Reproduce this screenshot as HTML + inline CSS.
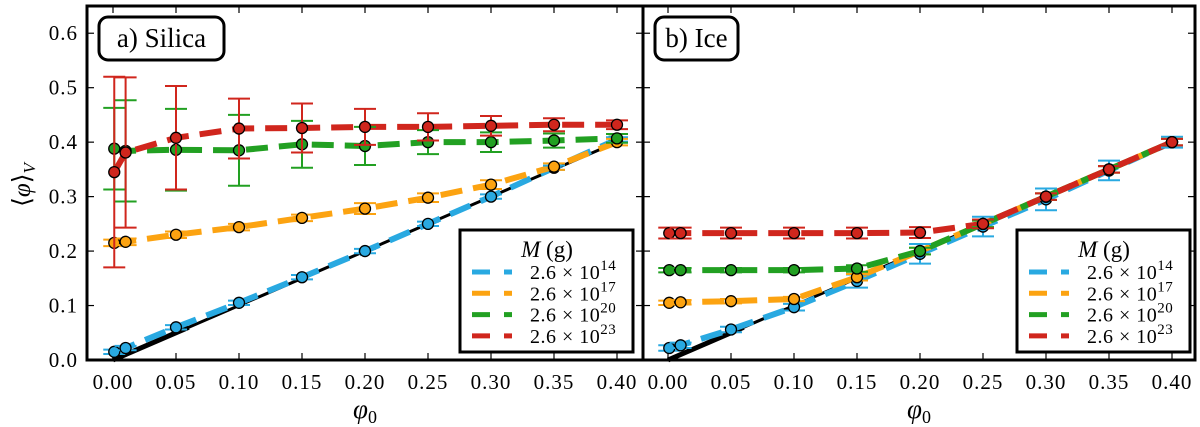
<!DOCTYPE html>
<html><head><meta charset="utf-8">
<style>
html,body{margin:0;padding:0;background:#fff;}
svg{display:block;font-family:"Liberation Serif",serif;}
</style></head>
<body>
<svg id="chart" width="1200" height="427" viewBox="0 0 1200 427" xmlns="http://www.w3.org/2000/svg"></svg>
<script>
const xVals = [0.001, 0.01, 0.05, 0.10, 0.15, 0.20, 0.25, 0.30, 0.35, 0.40];
const xTicks = [0, 0.05, 0.10, 0.15, 0.20, 0.25, 0.30, 0.35, 0.40];
const xTickLabels = ["0.00","0.05","0.10","0.15","0.20","0.25","0.30","0.35","0.40"];
const yTicks = [0, 0.1, 0.2, 0.3, 0.4, 0.5, 0.6];
const yTickLabels = ["0.0","0.1","0.2","0.3","0.4","0.5","0.6"];
const seriesNames = ["2.6e14","2.6e17","2.6e20","2.6e23"];
const seriesColors = ["#29a9e1","#fca311","#22a022","#d0261d"];
const legendExp = ["14","17","20","23"];
// Silica
const silicaBlue = [0.015,0.022,0.060,0.105,0.152,0.200,0.250,0.300,0.353,0.405];
const silicaBlueErr = [0.004,0.004,0.004,0.004,0.004,0.004,0.004,0.004,0.004,0.004];
const silicaOrange = [0.215,0.217,0.230,0.244,0.261,0.278,0.298,0.322,0.355,0.400];
const silicaOrangeErr = [0.006,0.006,0.006,0.006,0.006,0.010,0.008,0.008,0.006,0.006];
const silicaGreen = [0.388,0.384,0.386,0.385,0.396,0.393,0.400,0.400,0.403,0.407];
const silicaGreenErr = [0.075,0.093,0.075,0.065,0.043,0.035,0.022,0.018,0.013,0.008];
const silicaRed = [0.345,0.381,0.408,0.425,0.426,0.428,0.428,0.430,0.432,0.432];
const silicaRedErr = [0.175,0.138,0.095,0.055,0.045,0.033,0.025,0.018,0.012,0.008];
// Ice
const iceBlue = [0.022,0.027,0.056,0.097,0.145,0.195,0.245,0.295,0.348,0.400];
const iceBlueErr = [0.005,0.005,0.005,0.006,0.012,0.018,0.018,0.020,0.018,0.010];
const iceOrange = [0.105,0.106,0.108,0.112,0.152,0.200,0.250,0.300,0.350,0.400];
const iceOrangeErr = [0.004,0.004,0.004,0.004,0.006,0.006,0.006,0.006,0.006,0.006];
const iceGreen = [0.165,0.165,0.165,0.165,0.168,0.200,0.250,0.300,0.350,0.400];
const iceGreenErr = [0.004,0.004,0.004,0.004,0.006,0.006,0.006,0.006,0.006,0.006];
const iceRed = [0.233,0.233,0.233,0.233,0.233,0.234,0.250,0.300,0.350,0.400];
const iceRedErr = [0.010,0.010,0.010,0.010,0.010,0.010,0.008,0.006,0.006,0.006];

const NS="http://www.w3.org/2000/svg";
const svg=document.getElementById('chart');
function mk(tag,attrs,parent){const e=document.createElementNS(NS,tag);for(const k in attrs)e.setAttribute(k,attrs[k]);(parent||svg).appendChild(e);return e;}

const yTop=6,yBot=360;
function yScale(v){return yBot-(v/0.65)*(yBot-yTop);}

const panels=[
 {name:"silica",left:87,right:643,x0:113,label:"a) Silica",boxW:125,
  data:[[silicaBlue,silicaBlueErr],[silicaOrange,silicaOrangeErr],[silicaGreen,silicaGreenErr],[silicaRed,silicaRedErr]],legX:460},
 {name:"ice",left:643,right:1195,x0:668,label:"b) Ice",boxW:83,
  data:[[iceBlue,iceBlueErr],[iceOrange,iceOrangeErr],[iceGreen,iceGreenErr],[iceRed,iceRedErr]],legX:1017}
];

panels.forEach((p,pi)=>{
  const xScale=v=>p.x0+v/0.05*63.0;
  const g=mk('g',{});
  
  
  xTicks.forEach((t,i)=>{
    const x=xScale(t);
    const tk=mk('line',{x1:x,x2:x,y1:yBot,y2:yBot-7,stroke:'#000','stroke-width':1.2},g);
    
    
    mk('line',{x1:x,x2:x,y1:yTop,y2:yTop+7,stroke:'#000','stroke-width':1.2},g);
    const tl=mk('text',{x:x,y:389,'text-anchor':'middle','font-size':21,'letter-spacing':1},g);
    tl.textContent=xTickLabels[i];
    
    
  });
  yTicks.forEach((t,i)=>{
    const y=yScale(t);
    mk('line',{x1:p.left,x2:p.left+7,y1:y,y2:y,stroke:'#000','stroke-width':1.2},g);
    mk('line',{x1:p.right,x2:p.right-7,y1:y,y2:y,stroke:'#000','stroke-width':1.2},g);
    if(pi===0){
      const tl=mk('text',{x:78,y:y+7,'text-anchor':'end','font-size':21,'letter-spacing':1},g);
      tl.textContent=yTickLabels[i];
      
      
    }
  });
  const ref=mk('line',{x1:xScale(0),y1:yScale(0),x2:xScale(0.4),y2:yScale(0.4),stroke:'#000','stroke-width':3},g);
  
  
  mk('line',{x1:xScale(0),y1:yScale(0),x2:xScale(0.06),y2:yScale(0.06),stroke:'#000','stroke-width':5},g);
  p.data.forEach((d,si)=>{
    const [vals,errs]=d;const c=seriesColors[si];
    const pts=vals.map((v,i)=>xScale(xVals[i])+','+yScale(v)).join(' ');
    const ln=mk('polyline',{points:pts,fill:'none',stroke:c,'stroke-width':6,'stroke-dasharray':'22 11'},g);
    
    
  });
  p.data.forEach((d,si)=>{
    const [vals,errs]=d;const c=seriesColors[si];
    vals.forEach((v,i)=>{
      const x=xScale(xVals[i]);
      const y1=yScale(v+errs[i]),y2=yScale(v-errs[i]);
      const eb=mk('g',{},g);
      
      
      mk('line',{x1:x,x2:x,y1:y1,y2:y2,stroke:c,'stroke-width':2},eb);
      mk('line',{x1:x-11,x2:x+11,y1:y1,y2:y1,stroke:c,'stroke-width':2},eb);
      mk('line',{x1:x-11,x2:x+11,y1:y2,y2:y2,stroke:c,'stroke-width':2},eb);
      const pt=mk('circle',{cx:x,cy:yScale(v),r:5.5,fill:c,stroke:'#000','stroke-width':1.3},g);
      
      
    });
  });
  const fr=mk('rect',{x:p.left,y:yTop,width:p.right-p.left,height:yBot-yTop,fill:'none',stroke:'#000','stroke-width':3},g);
  
  
  const lb=mk('g',{},g);
  
  
  mk('rect',{x:p.left+12,y:17,width:p.boxW,height:43,rx:9,fill:'#fff',stroke:'#000','stroke-width':3},lb);
  const lt=mk('text',{x:p.left+12+p.boxW/2,y:47,'text-anchor':'middle','font-size':27},lb);
  lt.textContent=p.label;
  const lg=mk('g',{},g);
  
  
  mk('rect',{x:p.legX,y:230,width:173,height:122,fill:'#fff',stroke:'#000','stroke-width':3},lg);
  const title=mk('text',{x:p.legX+87,y:257,'text-anchor':'middle','font-size':23},lg);
  title.innerHTML='<tspan font-style="italic">M</tspan> (g)';
  seriesColors.forEach((c,si)=>{
    const y=272+si*21.3;
    const e=mk('g',{},lg);
    
    
    mk('line',{x1:p.legX+12,x2:p.legX+30,y1:y,y2:y,stroke:c,'stroke-width':5},e);
    mk('line',{x1:p.legX+44,x2:p.legX+52,y1:y,y2:y,stroke:c,'stroke-width':5},e);
    const t=mk('text',{x:p.legX+70,y:y+7,'font-size':20,'letter-spacing':0.5},e);
    t.innerHTML='2.6 × 10<tspan dy="-9" font-size="15">'+legendExp[si]+'</tspan>';
  });
  const xl=mk('text',{x:(p.left+p.right)/2,y:418,'text-anchor':'middle','font-size':27,'font-style':'italic'},g);
  xl.innerHTML='φ<tspan dy="5" font-size="18" font-style="normal">0</tspan>';
  
  
});
const yl=mk('text',{x:0,y:0,'text-anchor':'middle','font-size':25,transform:'translate(30,185) rotate(-90)'});
yl.innerHTML='⟨<tspan font-style="italic">φ</tspan>⟩<tspan dy="5" font-size="17" font-style="italic">V</tspan>';


</script>
</body></html>
